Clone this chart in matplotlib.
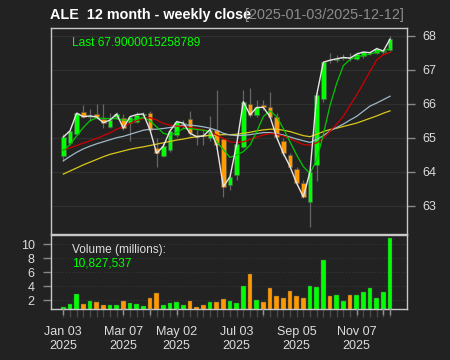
import matplotlib
matplotlib.use("Agg")
import matplotlib.pyplot as plt
import matplotlib.transforms as mtransforms
from matplotlib.patches import Rectangle
import numpy as np

plt.rcParams['font.family'] = ['Liberation Sans', 'DejaVu Sans']

# ---------------- data (weekly OHLC, 50 weeks) ----------------
opens = [64.45, 64.84, 65.12, 65.77, 65.62, 65.69, 65.55, 65.31, 65.62, 65.59,
         65.42, 65.47, 65.67, 65.72, 64.69, 64.46, 64.64, 65.08, 65.40, 65.54,
         65.08, 65.07, 64.98, 65.23, 64.95, 63.61, 63.90, 64.74, 65.99, 65.67,
         65.96, 65.89, 65.60, 64.91, 64.49, 64.07, 63.68, 63.12, 64.20, 66.13,
         67.30, 67.30, 67.33, 67.37, 67.32, 67.39, 67.48, 67.49, 67.52, 67.59]
highs = [65.10, 65.25, 65.77, 65.96, 65.85, 66.00, 66.00, 65.72, 65.75, 65.71,
         65.62, 65.77, 65.77, 65.80, 64.98, 64.83, 65.23, 65.51, 65.52, 65.80,
         65.22, 65.25, 65.63, 66.40, 64.98, 63.95, 64.88, 66.40, 66.45, 66.10,
         66.10, 66.35, 65.72, 64.98, 64.54, 64.15, 63.75, 64.00, 66.35, 67.25,
         67.48, 67.42, 67.46, 67.50, 67.52, 67.55, 67.56, 67.66, 67.62, 67.98]
lows = [64.32, 64.78, 65.08, 65.57, 65.50, 65.55, 65.28, 65.28, 65.55, 65.22,
        64.90, 65.42, 65.58, 65.18, 64.15, 64.42, 64.57, 65.02, 65.28, 65.05,
        64.78, 64.78, 64.90, 64.73, 63.26, 63.45, 63.75, 64.70, 65.62, 65.62,
        65.82, 65.57, 64.94, 64.45, 64.10, 63.61, 63.22, 62.38, 63.72, 66.05,
        67.20, 67.22, 67.28, 67.25, 67.28, 67.35, 67.42, 67.45, 67.45, 67.55]
closes = [65.02, 65.20, 65.72, 65.62, 65.64, 65.61, 65.44, 65.52, 65.70, 65.28,
          65.62, 65.68, 65.70, 65.23, 64.54, 64.75, 65.20, 65.47, 65.43, 65.13,
          65.03, 65.05, 65.24, 64.78, 63.56, 63.85, 64.81, 66.06, 65.67, 65.89,
          65.89, 65.62, 65.01, 64.54, 64.15, 63.66, 63.26, 64.00, 66.26, 67.22,
          67.28, 67.32, 67.36, 67.34, 67.46, 67.52, 67.50, 67.62, 67.55, 67.90]
volume_m = [1.10, 1.48, 2.86, 1.43, 1.95, 1.71, 1.33, 1.38, 1.38, 1.90,
            1.57, 1.43, 1.19, 2.29, 3.00, 1.33, 1.57, 1.76, 1.38, 1.95,
            1.10, 1.38, 1.81, 1.81, 2.24, 1.86, 1.62, 4.00, 5.76, 2.10,
            1.71, 3.76, 2.57, 2.33, 3.38, 2.57, 2.29, 4.05, 3.86, 7.71,
            2.62, 2.71, 1.90, 2.76, 2.81, 3.14, 3.71, 2.33, 3.24, 10.83]
ma_green = [64.62, 64.80, 65.05, 65.30, 65.50, 65.58, 65.57, 65.56, 65.56, 65.52,
            65.50, 65.55, 65.59, 65.50, 65.32, 65.13, 65.08, 65.15, 65.27, 65.27,
            65.24, 65.22, 65.18, 64.88, 64.65, 64.42, 64.49, 64.59, 64.78, 65.18,
            65.62, 65.79, 65.62, 65.27, 64.88, 64.49, 64.15, 63.95, 64.35, 65.10,
            65.95, 66.60, 67.12, 67.30, 67.38, 67.42, 67.46, 67.52, 67.56, 67.62]
ma_red = [64.64, 64.70, 64.77, 64.84, 64.91, 64.98, 65.06, 65.14, 65.25, 65.33,
          65.42, 65.50, 65.57, 65.59, 65.52, 65.42, 65.37, 65.34, 65.33, 65.30,
          65.27, 65.23, 65.18, 65.08, 64.98, 64.88, 64.86, 64.88, 64.95, 65.02,
          65.08, 65.12, 65.10, 65.05, 64.97, 64.88, 64.80, 64.78, 64.85, 64.98,
          65.19, 65.40, 65.63, 65.95, 66.26, 66.60, 66.95, 67.29, 67.44, 67.51]
ma_blue = [64.32, 64.45, 64.57, 64.67, 64.75, 64.82, 64.88, 64.94, 65.00, 65.04,
           65.10, 65.16, 65.22, 65.25, 65.25, 65.27, 65.30, 65.33, 65.37, 65.37,
           65.35, 65.32, 65.28, 65.22, 65.13, 65.08, 65.06, 65.07, 65.09, 65.12,
           65.15, 65.15, 65.12, 65.08, 65.02, 64.96, 64.91, 64.86, 64.95, 65.06,
           65.20, 65.30, 65.40, 65.52, 65.63, 65.78, 65.93, 66.02, 66.12, 66.22]
ma_yellow = [63.93, 64.02, 64.11, 64.20, 64.28, 64.36, 64.44, 64.51, 64.56, 64.61,
             64.66, 64.70, 64.73, 64.77, 64.81, 64.85, 64.89, 64.93, 64.96, 65.00,
             65.03, 65.05, 65.07, 65.08, 65.09, 65.09, 65.10, 65.13, 65.16, 65.20,
             65.23, 65.25, 65.25, 65.22, 65.18, 65.12, 65.06, 65.03, 65.10, 65.18,
             65.24, 65.28, 65.33, 65.38, 65.43, 65.50, 65.57, 65.64, 65.72, 65.79]
xtick_idx = [0, 9, 17, 26, 35, 44]
xtick_labels = ["Jan 03\n2025", "Mar 07\n2025", "May 02\n2025",
                "Jul 03\n2025", "Sep 05\n2025", "Nov 07\n2025"]
bright_tick_idx = [0, 9, 13, 17, 30, 44, 48, 49]
price_ticks = [63, 64, 65, 66, 67, 68]
vol_ticks = [2, 4, 6, 8, 10]
title_main = "ALE  12 month - weekly close"
title_range = "[2025-01-03/2025-12-12]"
last_text = "Last 67.9000015258789"
vol_title = "Volume (millions):"
vol_last = "10,827,537"

# ---------------- style ----------------
BG = '#222222'
UP = '#00ff00'
DN = '#ff9900'
BORDER = '#c8c8c8'
TXT = '#dddddd'
W, H = 450, 360

fig = plt.figure(figsize=(4.5, 3.6), dpi=100, facecolor=BG)

def fa(l, t, r, b):
    return [l / W, 1 - b / H, (r - l) / W, (b - t) / H]

ax = fig.add_axes(fa(50.7, 28.3, 406.7, 233.7))
axv = fig.add_axes(fa(50.7, 235.0, 406.7, 308.8))

n = len(closes)
x = np.arange(n)
xlim = (-1.89, 51.5)

for a in (ax, axv):
    a.set_facecolor(BG)
    a.set_xlim(*xlim)
    for s in a.spines.values():
        s.set_color(BORDER)
        s.set_linewidth(1.0)

# ---- main panel ----
ax.set_ylim(62.176, 68.218)
for v in price_ticks:
    ax.axhline(v, color='#303030', lw=0.9, zorder=0)

bw = 0.7
for i in range(n):
    o, h, l, c = opens[i], highs[i], lows[i], closes[i]
    col = UP if c >= o else DN
    ax.plot([i, i], [l, h], color='#666666', lw=0.9, zorder=2, solid_capstyle='butt')
    lo, hi = min(o, c), max(o, c)
    ax.add_patch(Rectangle((i - bw / 2, lo), bw, max(hi - lo, 0.012),
                           facecolor=col, edgecolor='#555555', lw=0.4, zorder=3))

ax.plot(x, ma_yellow, color='#d8c81a', lw=0.9, zorder=4)
ax.plot(x, ma_blue, color='#9fb8c6', lw=0.9, zorder=4)
ax.plot(x, ma_red, color='#d00000', lw=0.9, zorder=4)
ax.plot(x, ma_green, color='#00c800', lw=0.9, zorder=4)
ax.plot(x, closes, color='#e6e6e6', lw=1.0, zorder=5)

ax.yaxis.tick_right()
ax.set_yticks(price_ticks)
ax.set_yticklabels([str(v) for v in price_ticks])
ax.tick_params(axis='y', colors='#888888', labelcolor=TXT, length=5.5, width=1.0,
               pad=5.5, labelsize=9)
ax.set_xticks([])

# ---- volume panel ----
axv.set_ylim(0.79, 11.28)
for v in vol_ticks:
    axv.axhline(v, color='#3a3a3a', lw=0.7, ls=(0, (1, 2)), zorder=0)
vcols = [UP if closes[i] >= opens[i] else DN for i in range(n)]
axv.bar(x, volume_m, width=0.7, color=vcols, edgecolor='#555555', lw=0.3, zorder=2)
axv.set_yticks(vol_ticks)
axv.set_yticklabels([str(v) for v in vol_ticks])
axv.tick_params(axis='y', colors='#888888', labelcolor=TXT, length=5.5, width=1.0,
                pad=6, labelsize=9)
axv.set_xticks(xtick_idx)
axv.set_xticklabels(xtick_labels)
axv.set_xticks(x, minor=True)
axv.tick_params(axis='x', which='both', colors='#4a4a4a', labelcolor=TXT,
                length=5.5, width=1.0, pad=7, labelsize=9)
for lab in axv.get_xticklabels():
    lab.set_linespacing(1.25)
trans = mtransforms.blended_transform_factory(axv.transData, axv.transAxes)
for i in bright_tick_idx:
    axv.plot([i, i], [0, -0.075], color='#909090', lw=1.0, transform=trans,
             clip_on=False, zorder=6)

# ---- texts ----
fig.text(50 / W, 1 - 19.3 / H, title_main, color='white', fontsize=10.4,
         fontweight='bold', ha='left', va='baseline')
fig.text(245 / W, 1 - 19.3 / H, title_range, color='#8c8c8c', fontsize=10.4,
         ha='left', va='baseline')
fig.text(72.3 / W, 1 - 46.5 / H, last_text, color=UP, fontsize=8.6,
         ha='left', va='baseline')
fig.text(72.3 / W, 1 - 253 / H, vol_title, color=TXT, fontsize=8.6,
         ha='left', va='baseline')
fig.text(72.3 / W, 1 - 266.5 / H, vol_last, color=UP, fontsize=8.6,
         ha='left', va='baseline')

fig.savefig('out.png', dpi=100, facecolor=BG)
